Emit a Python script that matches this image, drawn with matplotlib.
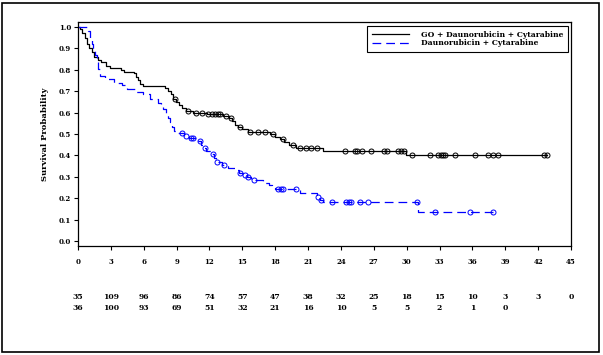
import numpy as np
import matplotlib
matplotlib.use("Agg")
import matplotlib.pyplot as plt
from matplotlib.patches import Rectangle

# GO + Daunorubicin + Cytarabine: step times and survival after each step
go_t = [0, 0.2, 0.4, 0.6, 0.8, 1.0, 1.25, 1.5, 1.8, 2.1, 2.6, 2.9, 3.9, 4.2, 5.1, 5.3,
        5.5, 5.7, 5.95, 7.9, 8.2, 8.5, 8.7, 8.9, 9.2, 9.5, 9.9, 10.5, 11.8, 13.2, 13.8,
        14.1, 14.3, 14.6, 15.0, 15.5, 17.5, 18.0, 18.4, 18.8, 19.3, 19.9, 22.4, 29.9]
go_s = [1.0, 0.99, 0.97, 0.95, 0.92, 0.90, 0.885, 0.86, 0.845, 0.835, 0.82, 0.81, 0.80,
        0.79, 0.785, 0.765, 0.75, 0.735, 0.725, 0.715, 0.70, 0.685, 0.665, 0.65, 0.635,
        0.62, 0.607, 0.60, 0.592, 0.584, 0.576, 0.56, 0.542, 0.534, 0.522, 0.511, 0.498,
        0.488, 0.475, 0.462, 0.449, 0.436, 0.422, 0.40]
go_cens = [8.85, 10.07, 10.8, 11.3, 11.9, 12.2, 12.5, 12.8, 13.0, 13.5, 14.0, 14.8, 15.7,
           16.4, 17.07, 17.8, 18.7, 19.65, 20.3, 20.8, 21.3, 21.8, 24.4, 25.3, 25.5, 25.9,
           26.7, 27.9, 28.2, 29.2, 29.5, 29.8, 30.5, 32.1, 32.9, 33.1, 33.3, 33.5, 34.4,
           36.2, 37.4, 37.9, 38.3, 42.5, 42.8]

# Daunorubicin + Cytarabine
da_t = [0, 0.95, 1.1, 1.25, 1.4, 1.55, 1.7, 1.85, 2.0, 2.5, 3.3, 4.0, 4.5, 5.3, 5.9, 6.6,
        7.3, 7.6, 7.8, 8.0, 8.2, 8.4, 8.6, 8.75, 9.0, 9.7, 10.1, 10.9, 11.2, 11.5, 11.7,
        12.1, 12.4, 12.6, 13.1, 13.7, 14.3, 14.7, 15.1, 15.4, 15.8, 16.9, 17.4, 17.7,
        18.0, 20.3, 21.5, 21.8, 22.1, 22.4, 31.0]
da_s = [1.0, 0.98, 0.95, 0.92, 0.89, 0.87, 0.835, 0.805, 0.77, 0.755, 0.74, 0.729, 0.71,
        0.698, 0.685, 0.662, 0.643, 0.63, 0.615, 0.597, 0.575, 0.555, 0.535, 0.515, 0.503,
        0.49, 0.48, 0.465, 0.45, 0.435, 0.42, 0.405, 0.39, 0.37, 0.355, 0.34, 0.33, 0.32,
        0.31, 0.298, 0.285, 0.272, 0.262, 0.25, 0.243, 0.226, 0.222, 0.207, 0.193, 0.184,
        0.137]
da_cens = [9.5, 9.9, 10.3, 10.5, 11.1, 11.6, 12.35, 12.7, 13.3, 14.8, 15.2, 15.5, 16.1,
           18.3, 18.5, 18.7, 19.9, 21.9, 22.2, 23.15, 24.5, 24.7, 24.9, 25.7, 26.5, 30.9,
           32.6, 35.8, 37.9]

xticks = [0, 3, 6, 9, 12, 15, 18, 21, 24, 27, 30, 33, 36, 39, 42, 45]
risk_go = ["35", "109", "96", "86", "74", "57", "47", "38", "32", "25", "18", "15", "10", "3", "3", "0"]
risk_da = ["36", "100", "93", "69", "51", "32", "21", "16", "10", "5", "5", "2", "1", "0"]

plt.rcParams['font.family'] = ['DejaVu Serif']
plt.rcParams['font.weight'] = 'bold'

fig = plt.figure(figsize=(6.03, 3.55), dpi=100)
W, H = 603, 355
ax = fig.add_axes([78 / W, 1 - 246 / H, (571 - 78) / W, (246 - 22) / H])


def km(ax, t, s, cens, color, ls, label):
    t = np.array(t)
    s = np.array(s)
    tt = np.append(t, max(cens))
    ss = np.append(s, s[-1])
    ax.step(tt, ss, where='post', color=color, ls=ls, lw=0.9, label=label)
    idx = np.searchsorted(t, cens, side='right') - 1
    ax.plot(cens, s[idx], ls='none', marker='o', ms=3.6, mfc='none', mec=color, mew=0.7)


km(ax, go_t, go_s, go_cens, 'black', '-', 'GO + Daunorubicin + Cytarabine')
km(ax, da_t, da_s, da_cens, '#0000ff', (0, (7, 4)), 'Daunorubicin + Cytarabine')

ax.set_xlim(0, 45)
ax.set_ylim(-5 / 214, 1 + 5 / 214)
ax.set_xticks(xticks)
ax.set_xticklabels([str(v) for v in xticks])
ax.set_yticks(np.arange(0, 1.01, 0.1))
ax.set_yticklabels(["%.1f" % v for v in np.arange(0, 1.01, 0.1)])
ax.tick_params(labelsize=5, length=3, width=0.8, pad=6)
ax.tick_params(axis='y', pad=2)
for sp in ax.spines.values():
    sp.set_linewidth(0.9)
ax.set_ylabel("Survival Probability", fontsize=6, fontweight='bold', labelpad=7)

leg = ax.legend(loc='upper right', bbox_to_anchor=(0.994, 0.982), fontsize=5.5,
                handlelength=4.8, fancybox=False, edgecolor='black', framealpha=1,
                borderpad=0.6, labelspacing=0.1, handletextpad=1.6, borderaxespad=0)
leg.get_frame().set_linewidth(0.8)

# numbers at risk
for i, v in enumerate(risk_go):
    ax.text(xticks[i], -0.228, v, ha='center', va='center', fontsize=5.5,
            transform=ax.get_xaxis_transform())
for i, v in enumerate(risk_da):
    ax.text(xticks[i], -0.278, v, ha='center', va='center', fontsize=5.5,
            transform=ax.get_xaxis_transform())

fig.patches.append(Rectangle((2 / W, 1 - 352 / H), 597 / W, 349 / H, transform=fig.transFigure,
                             fill=False, edgecolor='black', lw=1.2))

fig.savefig("out.png", dpi=100)
